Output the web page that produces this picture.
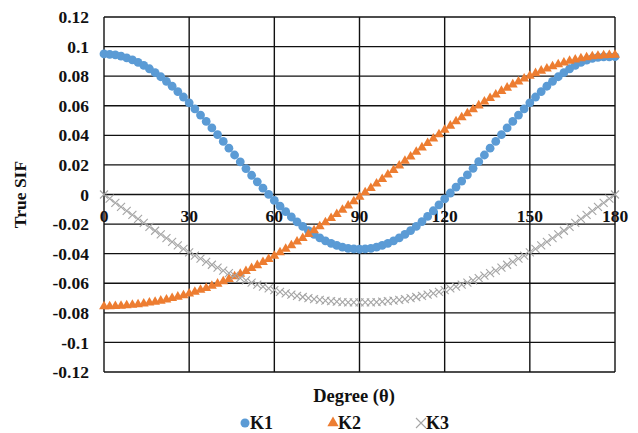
<!DOCTYPE html>
<html lang="en">
  <head>
    <meta charset="UTF-8" />
    <title>True SIF</title>
    <style>
      body { margin: 0; background: #fff; }
      text { font-family: "Liberation Serif", "Times New Roman", serif; font-weight: bold; fill: #111; }
    </style>
    <script src="https://d3js.org/d3.v7.min.js"></script>
  </head>
  <body>
    <div id="chart"></div>
    <script>
      // degrees 0..180 every 2
      const degrees = d3.range(0, 181, 2);

      const k1 = [
        0.0950, 0.0948, 0.0944, 0.0936, 0.0924, 0.0910, 0.0893, 0.0873, 0.0850, 0.0824,
        0.0796, 0.0765, 0.0732, 0.0696, 0.0659, 0.0620, 0.0579, 0.0537, 0.0494, 0.0450,
        0.0405, 0.0359, 0.0313, 0.0267, 0.0221, 0.0175, 0.0130, 0.0086, 0.0043, 0.0001,
        -0.0040, -0.0079, -0.0116, -0.0152, -0.0185, -0.0216, -0.0244, -0.0270, -0.0293, -0.0313,
        -0.0330, -0.0344, -0.0356, -0.0364, -0.0368, -0.0370,
        -0.0368, -0.0364, -0.0356, -0.0344, -0.0330, -0.0313, -0.0293, -0.0270, -0.0244, -0.0216,
        -0.0183, -0.0148, -0.0110, -0.0070, -0.0030, 0.0010, 0.0050, 0.0091, 0.0133, 0.0177,
        0.0222, 0.0267, 0.0313, 0.0359, 0.0405, 0.0450, 0.0494, 0.0537, 0.0579, 0.0620,
        0.0659, 0.0696, 0.0732, 0.0765, 0.0796, 0.0824, 0.0850, 0.0873, 0.0893, 0.0908,
        0.0920, 0.0927, 0.0930, 0.0931, 0.0932
      ];

      const k2 = [
        -0.0760, -0.0760, -0.0758, -0.0757, -0.0754, -0.0750, -0.0746, -0.0741, -0.0735, -0.0729,
        -0.0722, -0.0714, -0.0705, -0.0695, -0.0685, -0.0674, -0.0662, -0.0649, -0.0636, -0.0622,
        -0.0607, -0.0591, -0.0575, -0.0557, -0.0540, -0.0521, -0.0502, -0.0482, -0.0461, -0.0440,
        -0.0418, -0.0395, -0.0371, -0.0348, -0.0323, -0.0298, -0.0272, -0.0246, -0.0219, -0.0192,
        -0.0164, -0.0136, -0.0108, -0.0079, -0.0050, -0.0020,
        0.0010, 0.0040, 0.0070, 0.0100, 0.0131, 0.0161, 0.0192, 0.0223, 0.0253, 0.0284,
        0.0314, 0.0344, 0.0374, 0.0403, 0.0433, 0.0461, 0.0490, 0.0518, 0.0545, 0.0572,
        0.0598, 0.0624, 0.0648, 0.0672, 0.0696, 0.0718, 0.0740, 0.0760, 0.0780, 0.0799,
        0.0816, 0.0833, 0.0848, 0.0863, 0.0876, 0.0888, 0.0899, 0.0908, 0.0917, 0.0924,
        0.0930, 0.0934, 0.0937, 0.0939, 0.0940
      ];

      const k3 = [
        0.0000, -0.0028, -0.0056, -0.0083, -0.0111, -0.0138, -0.0165, -0.0192, -0.0219, -0.0245,
        -0.0270, -0.0295, -0.0320, -0.0344, -0.0368, -0.0391, -0.0413, -0.0434, -0.0455, -0.0475,
        -0.0495, -0.0514, -0.0532, -0.0549, -0.0565, -0.0581, -0.0596, -0.0610, -0.0623, -0.0635,
        -0.0647, -0.0658, -0.0668, -0.0677, -0.0686, -0.0693, -0.0700, -0.0707, -0.0712, -0.0717,
        -0.0721, -0.0724, -0.0727, -0.0729, -0.0730, -0.0730,
        -0.0730, -0.0729, -0.0727, -0.0724, -0.0721, -0.0717, -0.0712, -0.0707, -0.0700, -0.0693,
        -0.0686, -0.0677, -0.0668, -0.0658, -0.0647, -0.0635, -0.0623, -0.0610, -0.0596, -0.0581,
        -0.0565, -0.0549, -0.0532, -0.0514, -0.0495, -0.0475, -0.0455, -0.0434, -0.0413, -0.0391,
        -0.0368, -0.0344, -0.0320, -0.0295, -0.0270, -0.0245, -0.0219, -0.0192, -0.0165, -0.0138,
        -0.0111, -0.0083, -0.0056, -0.0028, 0.0000
      ];

      const xTicks = [0, 30, 60, 90, 120, 150, 180];
      const yTicks = [0.12, 0.1, 0.08, 0.06, 0.04, 0.02, 0, -0.02, -0.04, -0.06, -0.08, -0.1, -0.12];
      const yTickLabels = ["0.12", "0.1", "0.08", "0.06", "0.04", "0.02", "0", "-0.02", "-0.04", "-0.06", "-0.08", "-0.1", "-0.12"];

      const seriesNames = ["K1", "K2", "K3"];
      const seriesValues = [k1, k2, k3];
      const colors = ["#5B9BD5", "#ED7D31", "#A5A5A5"];

      const width = 638;
      const height = 433;
      const margin = { top: 17, right: 23, bottom: 61, left: 104 };

      const svg = d3
        .select("#chart")
        .append("svg")
        .attr("width", width)
        .attr("height", height);

      const x = d3
        .scaleLinear()
        .domain([0, 180])
        .range([margin.left, width - margin.right]);

      const y = d3
        .scaleLinear()
        .domain([-0.12, 0.12])
        .range([height - margin.bottom, margin.top]);

      // grid
      const grid = svg.append("g").attr("stroke", "#111").attr("stroke-width", 1.4);
      grid
        .selectAll(".h")
        .data(yTicks)
        .enter()
        .append("line")
        .attr("x1", x(0))
        .attr("x2", x(180))
        .attr("y1", (d) => y(d))
        .attr("y2", (d) => y(d));
      grid
        .selectAll(".v")
        .data(xTicks)
        .enter()
        .append("line")
        .attr("x1", (d) => x(d))
        .attr("x2", (d) => x(d))
        .attr("y1", y(0.12))
        .attr("y2", y(-0.12));

      // y axis labels
      svg
        .append("g")
        .selectAll("text")
        .data(yTicks)
        .enter()
        .append("text")
        .attr("x", x(0) - 15)
        .attr("y", (d) => y(d))
        .attr("dy", "0.35em")
        .attr("text-anchor", "end")
        .style("font-size", "17.5px")
        .text((d, i) => yTickLabels[i]);

      // x axis labels sit under the zero line
      svg
        .append("g")
        .selectAll("text")
        .data(xTicks)
        .enter()
        .append("text")
        .attr("x", (d) => x(d))
        .attr("y", y(0) + 27)
        .attr("text-anchor", "middle")
        .style("font-size", "17.5px")
        .text((d) => d);

      // markers
      const tri = d3.symbol().type(d3.symbolTriangle).size(42);
      seriesValues.forEach((vals, s) => {
        const g = svg.append("g");
        const pts = degrees.map((d, i) => ({ deg: d, v: vals[i] }));
        if (s === 0) {
          g.selectAll("circle")
            .data(pts)
            .enter()
            .append("circle")
            .attr("cx", (d) => x(d.deg))
            .attr("cy", (d) => y(d.v))
            .attr("r", 4.4)
            .attr("fill", colors[0]);
        } else if (s === 1) {
          g.selectAll("path")
            .data(pts)
            .enter()
            .append("path")
            .attr("d", tri)
            .attr("transform", (d) => `translate(${x(d.deg)},${y(d.v) - 0.5})`)
            .attr("fill", colors[1]);
        } else {
          g.selectAll("path")
            .data(pts)
            .enter()
            .append("path")
            .attr("d", "M-4,-4L4,4M-4,4L4,-4")
            .attr("transform", (d) => `translate(${x(d.deg)},${y(d.v)})`)
            .attr("stroke", colors[2])
            .attr("stroke-width", 1.1)
            .attr("fill", "none");
        }
      });

      // axis titles
      svg
        .append("text")
        .attr("x", 354)
        .attr("y", 402)
        .attr("text-anchor", "middle")
        .style("font-size", "18.5px")
        .text("Degree (θ)");

      svg
        .append("text")
        .attr("transform", `translate(26,${y(0)}) rotate(-90)`)
        .attr("text-anchor", "middle")
        .style("font-size", "17.5px")
        .text("True SIF");

      // legend
      const legendX = [245, 333, 421];
      const legend = svg.append("g");
      seriesNames.forEach((name, i) => {
        const lx = legendX[i];
        const ly = 423;
        if (i === 0) {
          legend.append("circle").attr("cx", lx).attr("cy", ly).attr("r", 4.5).attr("fill", colors[0]);
        } else if (i === 1) {
          legend
            .append("path")
            .attr("d", d3.symbol().type(d3.symbolTriangle).size(55))
            .attr("transform", `translate(${lx},${ly})`)
            .attr("fill", colors[1]);
        } else {
          legend
            .append("path")
            .attr("d", "M-5,-5L5,5M-5,5L5,-5")
            .attr("transform", `translate(${lx},${ly})`)
            .attr("stroke", colors[2])
            .attr("stroke-width", 1.1);
        }
        legend
          .append("text")
          .attr("x", lx + 5)
          .attr("y", 429)
          .style("font-size", "18px")
          .text(name);
      });
    </script>
  </body>
</html>
